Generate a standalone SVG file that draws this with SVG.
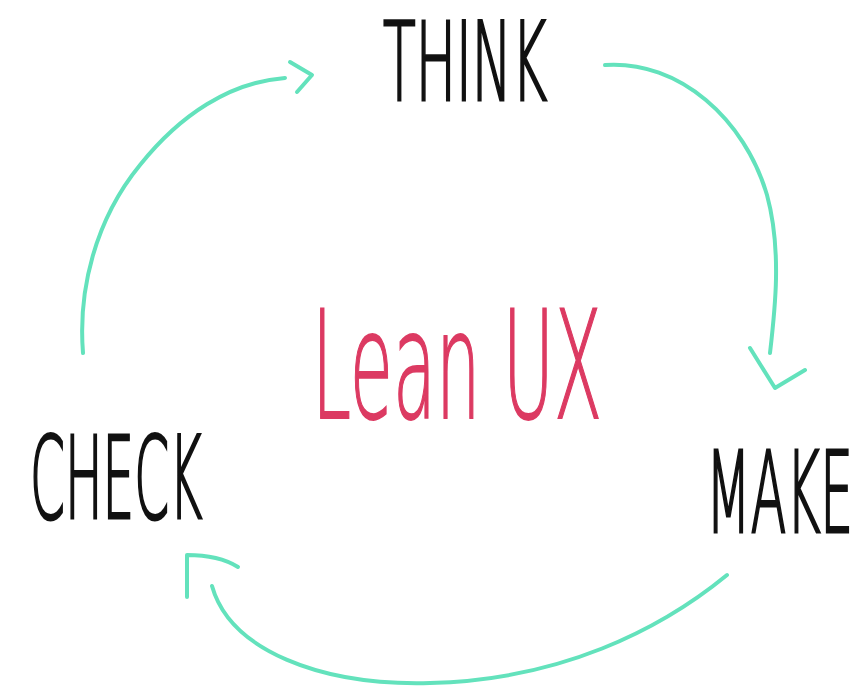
<svg xmlns="http://www.w3.org/2000/svg" width="862" height="695" viewBox="0 0 862 695">
<style>
.lbl{font-family:"DejaVu Sans","Liberation Sans",sans-serif;font-weight:200;fill:#111;stroke:#111;stroke-width:3}
.title{font-family:"DejaVu Sans","Liberation Sans",sans-serif;font-weight:200;fill:#dc3a62;stroke:#dc3a62;stroke-width:2}
.arc{fill:none;stroke:#63e2bc;stroke-width:4;stroke-linecap:round;stroke-linejoin:round}
</style>
<rect width="862" height="695" fill="#ffffff"/>
<g id="connectors">
<path class="arc" d="M83,353 C78,290 95,220 140,165 C180,115 230,82 285,78"/>
<path class="arc" d="M290,62 L312,75 L297,92"/>
<path class="arc" d="M605,65 C680,60 745,120 767,195 C782,250 775,310 770,353"/>
<path class="arc" d="M750,348 L775,388 L805,370"/>
<path class="arc" d="M727,575 C660,630 560,680 430,683 C320,686 230,650 212,586"/>
<path class="arc" d="M187,597 L187,555 C205,555 222,557 238,567"/>
</g>
<g id="think"><text class="lbl" transform="translate(383,100) scale(0.5,1)" x="0" y="0" font-size="108" textLength="328" lengthAdjust="spacingAndGlyphs">THINK</text></g>
<g id="make"><text class="lbl" transform="translate(706,532) scale(0.47,1)" x="0" y="0" font-size="112" textLength="313" lengthAdjust="spacingAndGlyphs">MAKE</text></g>
<g id="check"><text class="lbl" transform="translate(30,518) scale(0.44,1)" x="0" y="0" font-size="114" textLength="391" lengthAdjust="spacingAndGlyphs">CHECK</text></g>
<g id="leanux"><text class="title" transform="translate(312,418) scale(0.465,1)" x="0" y="0" font-size="150" textLength="624" lengthAdjust="spacingAndGlyphs">Lean UX</text></g>
</svg>
